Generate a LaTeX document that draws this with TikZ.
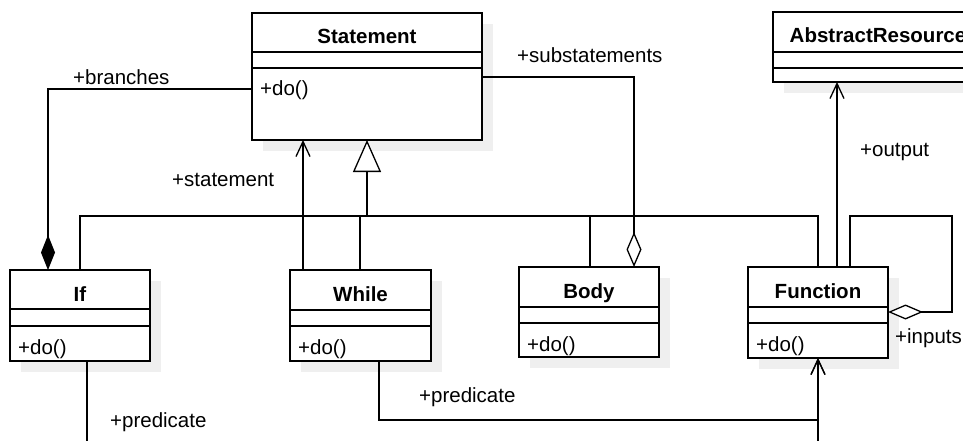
\documentclass[tikz,border=0pt]{standalone}
\usepackage{fontspec}
\setmainfont{Liberation Sans}
\usetikzlibrary{arrows.meta,calc}
\definecolor{shadowc}{HTML}{EFEFEF}
\tikzset{
  cls/.style={draw, line width=1.3pt, fill=white, rectangle, inner sep=0pt, outer sep=0pt, anchor=north west},
  ttl/.style={font=\fontsize{20.5}{24}\selectfont\bfseries, inner sep=0pt, anchor=base},
  mth/.style={font=\fontsize{20.5}{24}\selectfont, inner sep=0pt, anchor=base west},
  lbl/.style={font=\fontsize{20.5}{24}\selectfont, inner sep=0pt, anchor=base west},
  conn/.style={line width=1.3pt},
  opena/.style={-{Straight Barb[length=15pt,width=14pt]}},
  gena/.style={-{Triangle[open,length=32pt,width=28pt,fill=white]}},
  compd/.style={-{Diamond[length=35pt,width=14pt]}},
  aggd/.style={-{Diamond[open,length=35pt,width=15pt,fill=white]}},
}
\newcommand\umlclass[9]{%
  \fill[shadowc] (#2+11,#3+11) rectangle ++(#4,#7);
  \node[cls, minimum width=#4pt, minimum height=#7pt] (#1) at (#2,#3) {};
  \draw[line width=1.3pt] (#2,#3+#5) -- ++(#4,0);
  \draw[line width=1.3pt] (#2,#3+#5+#6) -- ++(#4,0);
  \node[ttl] (#1t) at (#2+#4/2,#3+31) {#8};
  \node[mth] (#1m) at (#2+8,#3+#5+#6+28) {#9};
}
\begin{document}
\begin{tikzpicture}[x=1pt,y=-1pt]
\useasboundingbox (0,0) rectangle (963,441);
\clip (0,0) rectangle (963,441);
\fill[white] (0,0) rectangle (963,441);

% classes
\umlclass{st}{252}{13}{230}{39}{16}{127}{Statement}{+do()}
\umlclass{ar}{773}{12}{210}{40}{16}{70}{AbstractResource}{}
\umlclass{if}{10}{270}{140}{39}{17}{91}{If}{+do()}
\umlclass{wh}{290}{270}{141}{40}{16}{91}{While}{+do()}
\umlclass{bd}{519}{267}{140}{40}{16}{90}{Body}{+do()}
\umlclass{fn}{748}{267}{140}{40}{16}{91}{Function}{+do()}

% generalization tree
\coordinate (gj) at (367,216);
\draw[conn, gena] (gj) -- (st.south);
\draw[conn] (if.north) |- (gj);
\draw[conn] (fn.north) |- (gj);
\draw[conn] (360,0 |- wh.north) -- (360,0 |- gj);
\draw[conn] (590,0 |- bd.north) -- (590,0 |- gj);

% branches (composition)
\draw[conn, compd] (st.west |- 0,89) -| (48,0 |- if.north);
\node[lbl] (lbranch) at (73,85) {+branches};

% substatements (aggregation)
\draw[conn, aggd] (st.east |- 0,77) -| (634,0 |- bd.north);
\node[lbl] (lsubst) at (517,63) {+substatements};

% statement association
\draw[conn, opena] (303,0 |- wh.north) -- (303,0 |- st.south);
\node[lbl] (lstmt) at (172,186) {+statement};

% output
\draw[conn, opena] (837,0 |- fn.north) -- (837,0 |- ar.south);
\node[lbl] (lout) at (860,157) {+output};

% inputs self loop
\draw[conn, aggd] (850,0 |- fn.north) -- (850,216) -- (952,216) -- (952,312) -- (fn.east |- 0,312);
\node[lbl] (linp) at (895,343) {+inputs};

% predicates
\coordinate (ifend) at (87,448);
\coordinate (fnend) at (818,448);
\draw[conn] (87,0 |- if.south) -- (ifend);
\node[lbl] (lpred1) at (110,427) {+predicate};
\draw[conn, opena] (fnend) -- (fn.south);
\draw[conn, opena] (379,0 |- wh.south) |- (818,420) -- (fn.south);
\node[lbl] (lpred2) at (419,402) {+predicate};
\end{tikzpicture}
\end{document}
